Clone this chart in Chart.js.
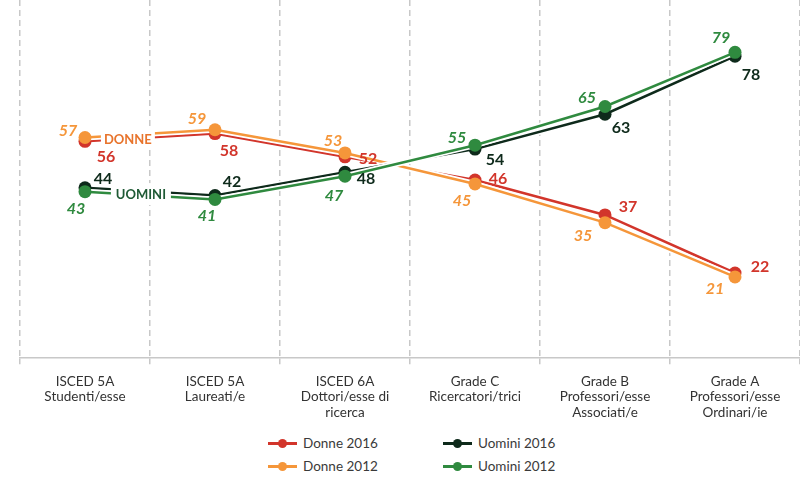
<!DOCTYPE html>
<html lang="it">
<head>
<meta charset="UTF-8" />
<title>Donne e uomini :: carriera accademica</title>
<script src="https://cdn.jsdelivr.net/npm/chart.js"></script>
<style>
  body { margin: 0; background: #fff; font-family: Lato, "DejaVu Sans", sans-serif; }
  #wrapper { position: relative; width: 800px; height: 477px; }
  #chartBox { position: absolute; left: 0; top: 0; width: 800px; height: 430px; }
  .leg { position: absolute; font-size: 13.5px; color: #3a3a3a; line-height: 16px; white-space: nowrap; }
  .leg i { position: absolute; left: 0; top: 7px; width: 29px; height: 2.5px; }
  .leg b { position: absolute; left: 10px; top: 4px; width: 9px; height: 9px; border-radius: 50%; }
  .leg span { position: absolute; left: 35px; top: 0; }
</style>
</head>
<body>
<div id="wrapper">
  <div id="chartBox"><canvas id="careerChart"></canvas></div>
  <div id="legend"></div>
</div>

<script>
// categories (x axis)
var categories = [
  ["ISCED 5A", "Studenti/esse"],
  ["ISCED 5A", "Laureati/e"],
  ["ISCED 6A", "Dottori/esse di", "ricerca"],
  ["Grade C", "Ricercatori/trici"],
  ["Grade B", "Professori/esse", "Associati/e"],
  ["Grade A", "Professori/esse", "Ordinari/ie"]
];

// values (%)
var donne2016  = [56, 58, 52, 46, 37, 22];
var donne2012  = [57, 59, 53, 45, 35, 21];
var uomini2016 = [44, 42, 48, 54, 63, 78];
var uomini2012 = [43, 41, 47, 55, 65, 79];

// where each value label sits relative to its point (px)
var offDonne2016  = [[21, 15], [14, 17], [23, 2], [23, -1], [23, -8], [25, -6]];
var offDonne2012  = [[-17, -7], [-18, -11], [-12, -12], [-13, 17], [-22, 13], [-20, 12]];
var offUomini2016 = [[18, -9], [17, -14], [21, 7], [20, 11], [16, 14], [16, 19]];
var offUomini2012 = [[-9, 17], [-8, 16], [-11, 20], [-18, -7], [-18, -9], [-14, -14]];

var series = [
  { label: "Donne 2016",  data: donne2016,  color: "#d2352b", italic: false, off: offDonne2016,  order: 6 },
  { label: "Uomini 2016", data: uomini2016, color: "#0e2a1b", italic: false, off: offUomini2016, order: 2 },
  { label: "Donne 2012",  data: donne2012,  color: "#f5963a", italic: true,  off: offDonne2012,  order: 4 },
  { label: "Uomini 2012", data: uomini2012, color: "#2f8a3f", italic: true,  off: offUomini2012, order: 0 }
];

// each line gets a white halo drawn right under it
var datasets = [];
series.forEach(function (s) {
  s.index = datasets.length;
  datasets.push({
    label: s.label, data: s.data, order: s.order,
    borderColor: s.color, backgroundColor: s.color, borderWidth: 2.5,
    pointRadius: 6.5, pointBorderWidth: 0, pointBackgroundColor: s.color,
    tension: 0, clip: false
  });
  datasets.push({
    label: s.label + " halo", data: s.data, order: s.order + 1,
    borderColor: "#ffffff", borderWidth: 6, pointRadius: 0,
    tension: 0, clip: false
  });
});

var valueLabels = {
  id: "valueLabels",
  afterDatasetsDraw: function (chart) {
    var ctx = chart.ctx;
    var x = chart.scales.x, y = chart.scales.y;
    ctx.save();

    // DONNE / UOMINI tags sitting on the lines
    var tags = [
      { text: "DONNE", color: "#e8742c", a: donne2016, b: donne2012, f: 0.33, w: 54, dy: 3 },
      { text: "UOMINI", color: "#1f5a35", a: uomini2016, b: uomini2012, f: 0.43, w: 60, dy: 2 }
    ];
    tags.forEach(function (t) {
      var px = x.getPixelForValue(0) + t.f * (x.getPixelForValue(1) - x.getPixelForValue(0));
      var v = ((t.a[0] + t.b[0]) / 2) * (1 - t.f) + ((t.a[1] + t.b[1]) / 2) * t.f;
      var py = y.getPixelForValue(v) + t.dy;
      ctx.fillStyle = "#fff";
      ctx.fillRect(px - t.w / 2, py - 12, t.w, 22);
      ctx.fillStyle = t.color;
      ctx.font = "bold 13px Lato, 'DejaVu Sans', sans-serif";
      ctx.textAlign = "center";
      ctx.textBaseline = "middle";
      ctx.fillText(t.text, px, py);
    });

    series.forEach(function (s) {
      var meta = chart.getDatasetMeta(s.index);
      ctx.fillStyle = s.color;
      ctx.font = (s.italic ? "italic " : "") + "bold 16px Lato, 'DejaVu Sans', sans-serif";
      ctx.textAlign = "center";
      ctx.textBaseline = "middle";
      meta.data.forEach(function (pt, i) {
        ctx.fillText(String(s.data[i]), pt.x + s.off[i][0], pt.y + s.off[i][1]);
      });
    });
    ctx.restore();
  }
};

var ctx = document.getElementById("careerChart").getContext("2d");
var chart = new Chart(ctx, {
  type: "line",
  data: { labels: categories, datasets: datasets },
  options: {
    responsive: true,
    maintainAspectRatio: false,
    animation: false,
    layout: { autoPadding: false, padding: { left: 20, right: 0, top: 0, bottom: 0 } },
    plugins: { legend: { display: false }, tooltip: { enabled: false } },
    scales: {
      x: {
        offset: true,
        grid: {
          display: true, offset: true, color: "#c8c8c8", lineWidth: 1.5,
          drawTicks: true, tickLength: 6, tickColor: "#c8c8c8"
        },
        border: { display: true, color: "#c8c8c8", width: 1.5, dash: [6, 4] },
        ticks: {
          color: "#333", padding: 9, maxRotation: 0, autoSkip: false,
          font: { family: "Lato, 'DejaVu Sans', sans-serif", size: 13.5, lineHeight: 1.18 }
        }
      },
      y: { display: false, min: 0, max: 92.5 }
    }
  },
  plugins: [valueLabels]
});

// legend, two columns like the original
var legendPos = [[268, 435], [443, 435], [268, 458], [443, 458]];
var legend = document.getElementById("legend");
series.forEach(function (s, k) {
  var d = document.createElement("div");
  d.className = "leg";
  d.style.left = legendPos[k][0] + "px";
  d.style.top = legendPos[k][1] + "px";
  d.innerHTML = '<i style="background:' + s.color + '"></i><b style="background:' + s.color +
    '"></b><span>' + s.label + "</span>";
  legend.appendChild(d);
});
</script>
</body>
</html>
